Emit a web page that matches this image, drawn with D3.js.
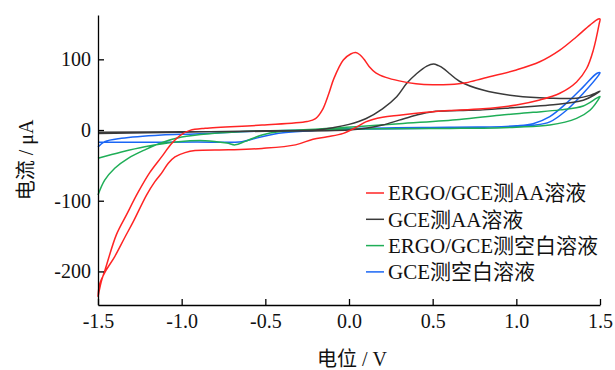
<!DOCTYPE html>
<html>
<head>
<meta charset="utf-8">
<script src="https://cdn.jsdelivr.net/npm/d3@7"></script>
<style>
  body { margin: 0; background: #fff; }
  text { font-family: "Liberation Serif", "Times New Roman", "Noto Sans CJK SC", serif; }
</style>
</head>
<body>
<div id="chart"></div>
<script>
// potential (V), current (uA) pairs
const ergoAA = [
  [-1.5,-236],[-1.48,-214],[-1.458,-198],[-1.39,-148],[-1.33,-120],[-1.26,-88],[-1.19,-60],[-1.12,-38],
  [-1.06,-19],[-1.0,-6],[-0.95,-0.5],[-0.86,2.5],[-0.52,7],[-0.25,12],[-0.2,16],[-0.16,28],[-0.12,52],
  [-0.09,73],[-0.034,99],[0.01,107.5],[0.04,109.5],[0.065,106.5],[0.09,100],[0.12,90],[0.16,81],
  [0.22,74.5],[0.3,69.5],[0.4,65.5],[0.5,64],[0.6,64.5],[0.7,67],[0.8,73],[1.0,85],[1.14,96.5],
  [1.26,113],[1.36,132],[1.44,148.5],[1.49,157],[1.5,157],
  [1.495,150],[1.46,113],[1.42,87],[1.36,68],[1.26,52],[1.14,42.5],[1.0,35.5],[0.8,30],[0.6,27.5],[0.5,26],
  [0.3,21],[0.2,18],[0.1,11.5],[0.045,4],[-0.034,-4.7],[-0.13,-9.5],[-0.215,-13],[-0.32,-21],[-0.52,-26],
  [-0.72,-28],[-0.92,-29],[-0.98,-32],[-1.04,-38],[-1.08,-47],[-1.12,-61],[-1.16,-73],[-1.21,-92],
  [-1.29,-130],[-1.34,-152],[-1.4,-179],[-1.458,-201],[-1.49,-218],[-1.5,-236]
]
const gceAA = [
  [-1.5,-5],[-1.0,-3],[-0.5,-1.2],[-0.2,0],[-0.09,3.5],[0.0,8],[0.1,16],[0.2,30],[0.285,47],[0.345,66],
  [0.405,80],[0.465,90.5],[0.505,93.5],[0.535,91],[0.565,87],[0.6,80],[0.66,69],[0.8,56.5],[1.0,48],
  [1.2,45],[1.36,45],[1.44,49],[1.5,55],
  [1.4,42],[1.2,35.5],[1.0,32],[0.8,28.5],[0.66,27.5],[0.5,26],[0.4,21],[0.3,14],[0.2,7],[0.1,2.5],
  [0.0,0],[-0.5,-1.8],[-1.0,-2.5],[-1.5,-3]
]
const ergoBlank = [
  [-1.5,-92],[-1.46,-71],[-1.4,-54],[-1.32,-40],[-1.22,-28],[-1.12,-18],[-1.0,-10],[-0.82,-5],[-0.52,-1],
  [-0.3,0],[0.04,4.5],[0.3,9],[0.66,15],[0.9,21],[1.1,25],[1.26,28.5],[1.4,34],[1.48,45],[1.5,47.5],
  [1.49,43],[1.44,28],[1.36,16.5],[1.2,7],[1.0,4],[0.8,2.5],[0.6,2.3],[0.0,1.4],[-0.42,-2.4],[-0.52,-7],
  [-0.62,-16],[-0.68,-21],[-0.73,-18.5],[-0.86,-15],[-1.02,-16.5],[-1.22,-23.5],[-1.36,-31],[-1.5,-40]
]
const gceBlank = [
  [-1.5,-24],[-1.46,-16.5],[-1.36,-11.7],[-1.12,-7],[-0.92,-5.5],[-0.52,-1.5],[0.0,1.2],[0.6,3],[1.0,6],
  [1.1,9],[1.2,19],[1.3,38],[1.4,61],[1.48,80],[1.5,81],
  [1.49,77],[1.4,52],[1.3,28],[1.2,11.5],[1.1,6.5],[1.0,5],[0.6,4],[0.0,2],[-0.22,-1],[-0.42,-4.7],
  [-0.58,-13],[-0.64,-16.5],[-0.92,-17],[-1.32,-17.4],[-1.5,-17.4]
]

const seriesNames = ['ERGO/GCE测AA溶液', 'GCE测AA溶液', 'ERGO/GCE测空白溶液', 'GCE测空白溶液']
const seriesData = [ergoAA, gceAA, ergoBlank, gceBlank]
const colors = ['#ff2424', '#3a3a3a', '#1fae57', '#1a66f5']
const xTicks = [-1.5, -1.0, -0.5, 0.0, 0.5, 1.0, 1.5]
const yTicks = [-200, -100, 0, 100]

const width = 615, height = 370
const margin = { top: 15, right: 15, bottom: 65, left: 98 }

const svg = d3.select('#chart').append('svg')
  .attr('width', width)
  .attr('height', height)

const x = d3.scaleLinear().domain([-1.5, 1.5]).range([margin.left, width - margin.right])
const y = d3.scaleLinear().domain([-247.5, 162.7]).range([height - margin.bottom, margin.top])

const line = d3.line().x(d => x(d[0])).y(d => y(d[1])).curve(d3.curveCatmullRom.alpha(0.5))

// draw back to front so red is on top like the original
seriesData.slice().reverse().forEach((data, j) => {
  const i = seriesData.length - 1 - j
  svg.append('path')
    .attr('d', line(data))
    .attr('fill', 'none')
    .attr('stroke', colors[i])
    .attr('stroke-width', 1.5)
})

svg.append('g')
  .attr('transform', 'translate(0,' + (height - margin.bottom) + ')')
  .call(d3.axisBottom(x).tickValues(xTicks).tickFormat(d => d.toFixed(1)).tickSizeInner(-6).tickSizeOuter(0).tickPadding(9))

svg.append('g')
  .attr('transform', 'translate(' + margin.left + ',0)')
  .call(d3.axisLeft(y).tickValues(yTicks).tickFormat(d => String(d)).tickSizeInner(-6).tickSizeOuter(0).tickPadding(7))

svg.selectAll('.domain, .tick line').attr('stroke', '#000').attr('stroke-width', 1.3)
svg.selectAll('.tick text').attr('font-size', 20).attr('fill', '#111')
  .style('font-family', '"Liberation Serif", "Times New Roman", serif')

svg.append('text')
  .attr('x', 352)
  .attr('y', 366)
  .attr('text-anchor', 'middle')
  .attr('font-size', 20)
  .attr('fill', '#111')
  .text('电位 / V')

svg.append('text')
  .attr('transform', 'translate(33,160) rotate(-90)')
  .attr('text-anchor', 'middle')
  .attr('font-size', 20)
  .attr('fill', '#111')
  .text('电流 / μA')

// legend
const legend = svg.append('g').attr('transform', 'translate(366,193)')
seriesNames.forEach((name, i) => {
  const row = legend.append('g').attr('transform', 'translate(0,' + i * 26.3 + ')')
  row.append('line')
    .attr('x1', 0).attr('x2', 18)
    .attr('stroke', colors[i])
    .attr('stroke-width', 1.5)
  row.append('text')
    .attr('x', 22)
    .attr('dy', '0.35em')
    .attr('font-size', 21)
    .attr('fill', '#111')
    .text(name)
})
</script>
</body>
</html>
